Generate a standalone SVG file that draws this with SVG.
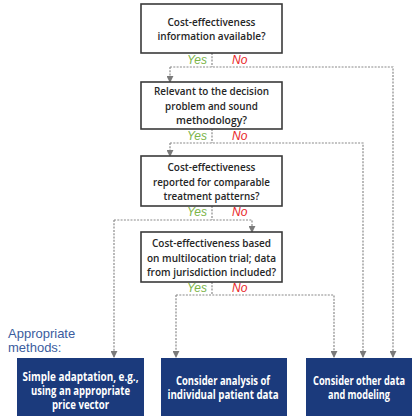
<svg xmlns="http://www.w3.org/2000/svg" width="413" height="417" viewBox="0 0 413 417">
  <style>
    .q { fill: #ffffff; stroke: #3a3a3a; stroke-width: 1.6; }
    .qt { font-family: "Open Sans", "Liberation Sans", sans-serif; font-size: 11.5px; font-weight: 600; fill: #262626; text-anchor: middle; }
    .m { fill: #1b3a7c; }
    .mt { font-family: "Open Sans", "Liberation Sans", sans-serif; font-size: 11.5px; font-weight: 700; fill: #ffffff; text-anchor: middle; }
    .yes { font-family: "Liberation Sans", Arial, sans-serif; font-size: 12px; font-style: italic; fill: #7cb54a; }
    .no { font-family: "Liberation Sans", Arial, sans-serif; font-size: 12px; font-style: italic; fill: #e8282a; }
    .lbl { font-family: "Liberation Sans", Arial, sans-serif; font-size: 13px; fill: #3b5c9e; }
    .c { fill: none; stroke: #8a8a8a; stroke-width: 1.2; stroke-dasharray: 2 1.3; }
  </style>
  <defs>
    <marker id="arr" viewBox="0 0 8 8" refX="7" refY="4" markerWidth="7" markerHeight="7" markerUnits="userSpaceOnUse" orient="auto">
      <path d="M0,0 L8,4 L0,8 Z" fill="#7a7a7a"/>
    </marker>
  </defs>

  <rect width="413" height="417" fill="#ffffff"/>

  <!-- connectors -->
  <g id="connectors">
    <!-- question 1 -->
    <path class="c" d="M212,53 V67"/>
    <path class="c" d="M170,67 H393 V357" marker-end="url(#arr)"/>
    <path class="c" d="M170,67 V82" marker-end="url(#arr)"/>
    <!-- question 2 -->
    <path class="c" d="M212,129 V143"/>
    <path class="c" d="M170,143 H363 V357" marker-end="url(#arr)"/>
    <path class="c" d="M170,143 V156" marker-end="url(#arr)"/>
    <!-- question 3 -->
    <path class="c" d="M212,206 V220"/>
    <path class="c" d="M114,220 H252 V232" marker-end="url(#arr)"/>
    <path class="c" d="M114,220 V357" marker-end="url(#arr)"/>
    <!-- question 4 -->
    <path class="c" d="M212,282 V295"/>
    <path class="c" d="M176,295 H334 V357" marker-end="url(#arr)"/>
    <path class="c" d="M176,295 V357" marker-end="url(#arr)"/>
  </g>

  <!-- Yes / No labels -->
  <g id="branch-labels">
    <text class="yes" x="187" y="64">Yes</text><text class="no" x="232" y="64">No</text>
    <text class="yes" x="187" y="140">Yes</text><text class="no" x="232" y="140">No</text>
    <text class="yes" x="187" y="216">Yes</text><text class="no" x="232" y="216">No</text>
    <text class="yes" x="187" y="292">Yes</text><text class="no" x="232" y="292">No</text>
  </g>

  <g id="q1">
    <rect class="q" x="141" y="4" width="141" height="49"/>
    <text class="qt" x="211.5" y="26" textLength="88" lengthAdjust="spacingAndGlyphs">Cost-effectiveness</text>
    <text class="qt" x="211.5" y="40" textLength="108" lengthAdjust="spacingAndGlyphs">information available?</text>
  </g>

  <g id="q2">
    <rect class="q" x="141" y="82" width="141" height="47"/>
    <text class="qt" x="211.5" y="95" textLength="115" lengthAdjust="spacingAndGlyphs">Relevant to the decision</text>
    <text class="qt" x="211.5" y="110" textLength="93" lengthAdjust="spacingAndGlyphs">problem and sound</text>
    <text class="qt" x="211.5" y="124" textLength="71" lengthAdjust="spacingAndGlyphs">methodology?</text>
  </g>

  <g id="q3">
    <rect class="q" x="141" y="156" width="141" height="50"/>
    <text class="qt" x="211.5" y="171" textLength="88" lengthAdjust="spacingAndGlyphs">Cost-effectiveness</text>
    <text class="qt" x="211.5" y="186" textLength="117" lengthAdjust="spacingAndGlyphs">reported for comparable</text>
    <text class="qt" x="211.5" y="200" textLength="96" lengthAdjust="spacingAndGlyphs">treatment patterns?</text>
  </g>

  <g id="q4">
    <rect class="q" x="141" y="232" width="141" height="50"/>
    <text class="qt" x="211.5" y="247" textLength="119" lengthAdjust="spacingAndGlyphs">Cost-effectiveness based</text>
    <text class="qt" x="211.5" y="262" textLength="129" lengthAdjust="spacingAndGlyphs">on multilocation trial; data</text>
    <text class="qt" x="211.5" y="276" textLength="129" lengthAdjust="spacingAndGlyphs">from jurisdiction included?</text>
  </g>

  <g id="methods-label">
    <text class="lbl" x="8" y="338">Appropriate</text>
    <text class="lbl" x="8" y="352">methods:</text>
  </g>

  <g id="m-simple">
    <rect class="m" x="17" y="358" width="127" height="58"/>
    <text class="mt" x="80.5" y="381" textLength="116" lengthAdjust="spacingAndGlyphs">Simple adaptation, e.g.,</text>
    <text class="mt" x="80.5" y="395" textLength="99" lengthAdjust="spacingAndGlyphs">using an appropriate</text>
    <text class="mt" x="80.5" y="409" textLength="57" lengthAdjust="spacingAndGlyphs">price vector</text>
  </g>

  <g id="m-ipd">
    <rect class="m" x="161" y="358" width="126" height="58"/>
    <text class="mt" x="223" y="385" textLength="94" lengthAdjust="spacingAndGlyphs">Consider analysis of</text>
    <text class="mt" x="223" y="399" textLength="111" lengthAdjust="spacingAndGlyphs">individual patient data</text>
  </g>

  <g id="m-other">
    <rect class="m" x="306" y="358" width="106" height="58"/>
    <text class="mt" x="359" y="385" textLength="92" lengthAdjust="spacingAndGlyphs">Consider other data</text>
    <text class="mt" x="359" y="399" textLength="62" lengthAdjust="spacingAndGlyphs">and modeling</text>
  </g>
</svg>
